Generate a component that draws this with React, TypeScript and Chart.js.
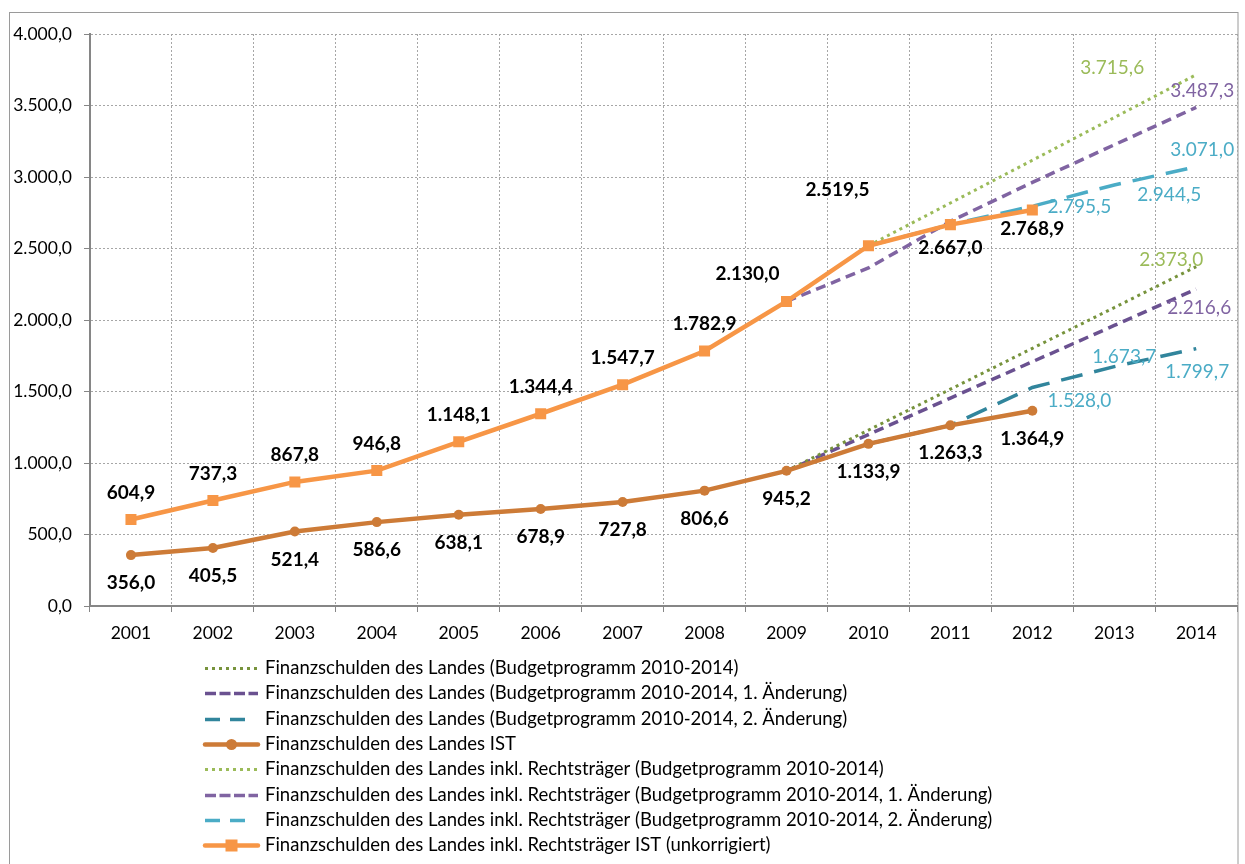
import React, { useEffect, useRef } from 'react';
import { Chart, registerables } from 'chart.js';

Chart.register(...registerables);

const years = ['2001', '2002', '2003', '2004', '2005', '2006', '2007', '2008', '2009', '2010', '2011', '2012', '2013', '2014'];

const landesBudget = [null, null, null, null, null, null, null, null, 945.2, 1230.0, 1516.0, 1802.0, 2087.0, 2373.0];
const landesBudget1 = [null, null, null, null, null, null, null, null, 945.2, 1199.0, 1454.0, 1708.0, 1962.0, 2216.6];
const landesBudget2 = [null, null, null, null, null, null, null, null, null, 1133.9, 1263.3, 1528.0, 1673.7, 1799.7];
const landesIst = [356.0, 405.5, 521.4, 586.6, 638.1, 678.9, 727.8, 806.6, 945.2, 1133.9, 1263.3, 1364.9, null, null];
const rtBudget = [null, null, null, null, null, null, null, null, null, 2519.5, 2818.0, 3117.0, 3416.0, 3715.6];
const rtBudget1 = [null, null, null, null, null, null, null, null, 2130.0, 2364.0, 2690.0, 2962.0, 3225.0, 3487.3];
const rtBudget2 = [null, null, null, null, null, null, null, null, null, 2519.5, 2667.0, 2795.5, 2944.5, 3071.0];
const rtIst = [604.9, 737.3, 867.8, 946.8, 1148.1, 1344.4, 1547.7, 1782.9, 2130.0, 2519.5, 2667.0, 2768.9, null, null];

const yMin = 0;
const yMax = 4000;
const yStep = 500;

const seriesNames = [
  'Finanzschulden des Landes (Budgetprogramm 2010-2014)',
  'Finanzschulden des Landes (Budgetprogramm 2010-2014, 1. Änderung)',
  'Finanzschulden des Landes (Budgetprogramm 2010-2014, 2. Änderung)',
  'Finanzschulden des Landes IST',
  'Finanzschulden des Landes inkl. Rechtsträger (Budgetprogramm 2010-2014)',
  'Finanzschulden des Landes inkl. Rechtsträger (Budgetprogramm 2010-2014, 1. Änderung)',
  'Finanzschulden des Landes inkl. Rechtsträger (Budgetprogramm 2010-2014, 2. Änderung)',
  'Finanzschulden des Landes inkl. Rechtsträger IST (unkorrigiert)',
];

const FONT = 'Lato, "Open Sans", sans-serif';
const GREEN_LABEL = '#9BBB59';
const PURPLE_LABEL = '#8064A2';
const TEAL_LABEL = '#4BACC6';

function fmt(v: number): string {
  const [intPart, dec] = v.toFixed(1).split('.');
  return intPart.replace(/\B(?=(\d{3})+(?!\d))/g, '.') + ',' + dec;
}

// label placement: [datasetIndex, pointIndex, dx, dy, color, bold]
type LabelSpec = [number, number, number, number, string, boolean];
const labelSpecs: LabelSpec[] = [];
for (let i = 0; i < 12; i++) labelSpecs.push([3, i, 0, 28, '#000', true]);
for (let i = 0; i < 8; i++) labelSpecs.push([7, i, 0, -27, '#000', true]);
labelSpecs.push([7, 8, -39, -28, '#000', true]);
labelSpecs.push([7, 9, -31, -56, '#000', true]);
labelSpecs.push([7, 10, 0, 23, '#000', true]);
labelSpecs.push([7, 11, 0, 19, '#000', true]);
labelSpecs.push([4, 13, -84, -7, GREEN_LABEL, false]);
labelSpecs.push([5, 13, 6, -16, PURPLE_LABEL, false]);
labelSpecs.push([6, 13, 6, -17, TEAL_LABEL, false]);
labelSpecs.push([6, 12, 55, 10, TEAL_LABEL, false]);
labelSpecs.push([6, 11, 47, 1, TEAL_LABEL, false]);
labelSpecs.push([0, 13, -25, -7, GREEN_LABEL, false]);
labelSpecs.push([1, 13, 3, 19, PURPLE_LABEL, false]);
labelSpecs.push([2, 12, 10, -10, TEAL_LABEL, false]);
labelSpecs.push([2, 13, 1, 23, TEAL_LABEL, false]);
labelSpecs.push([2, 11, 47, 13, TEAL_LABEL, false]);

const framePlugin = {
  id: 'frame',
  beforeDraw(chart: any) {
    const ctx = chart.ctx;
    ctx.save();
    ctx.fillStyle = '#fff';
    ctx.fillRect(0, 0, chart.width, chart.height);
    ctx.strokeStyle = '#9a9a9a';
    ctx.lineWidth = 1;
    ctx.strokeRect(9.5, 12.5, 1228.5, 900);
    ctx.restore();
  },
};

const valueLabelPlugin = {
  id: 'valueLabels',
  afterDatasetsDraw(chart: any) {
    const ctx = chart.ctx;
    ctx.save();
    ctx.textAlign = 'center';
    ctx.textBaseline = 'middle';
    for (const [ds, idx, dx, dy, color, bold] of labelSpecs) {
      const meta = chart.getDatasetMeta(ds);
      const el = meta.data[idx];
      const v = chart.data.datasets[ds].data[idx];
      if (!el || v == null) continue;
      ctx.font = (bold ? 'bold ' : '') + '19px ' + FONT;
      ctx.fillStyle = color;
      ctx.fillText(fmt(v), el.x + dx, el.y + dy);
    }
    ctx.restore();
  },
};

const legendPlugin = {
  id: 'customLegend',
  afterDraw(chart: any) {
    const ctx = chart.ctx;
    const top = 668;
    const rowH = 25.3;
    const x0 = 205;
    const x1 = 258;
    const tx = 265;
    ctx.save();
    chart.data.datasets.forEach((ds: any, i: number) => {
      const y = Math.round(top + i * rowH) + 0.5;
      ctx.save();
      ctx.strokeStyle = ds.borderColor;
      ctx.lineWidth = ds.borderWidth;
      ctx.setLineDash(ds.legendDash || []);
      ctx.lineCap = ds.pointRadius > 0 ? 'round' : 'butt';
      ctx.beginPath();
      ctx.moveTo(x0, y);
      ctx.lineTo(ds.legendEnd || x1, y);
      ctx.stroke();
      ctx.setLineDash([]);
      if (ds.pointRadius > 0) {
        const cx = (x0 + x1) / 2;
        ctx.fillStyle = ds.pointBackgroundColor;
        if (ds.pointStyle === 'rect') {
          ctx.fillRect(cx - 6, y - 6, 12, 12);
        } else {
          ctx.beginPath();
          ctx.arc(cx, y, 5.5, 0, Math.PI * 2);
          ctx.fill();
        }
      }
      ctx.restore();
      ctx.font = '18.5px ' + FONT;
      ctx.fillStyle = '#000';
      ctx.textAlign = 'left';
      ctx.textBaseline = 'middle';
      ctx.fillText(seriesNames[i], tx, y);
    });
    ctx.restore();
  },
};

export default function App() {
  const canvasRef = useRef<HTMLCanvasElement | null>(null);

  useEffect(() => {
    if (!canvasRef.current) return;
    const lineBase = { pointRadius: 0, pointHoverRadius: 0, tension: 0, fill: false, spanGaps: false, order: 1 };
    const chart = new Chart(canvasRef.current, {
      type: 'line',
      data: {
        labels: years,
        datasets: [
          { ...lineBase, label: seriesNames[0], data: landesBudget, borderColor: '#77933C', borderWidth: 3, borderDash: [3, 4], legendDash: [3, 4] },
          { ...lineBase, label: seriesNames[1], data: landesBudget1, borderColor: '#6A5190', borderWidth: 3.5, borderDash: [10, 6], legendDash: [11, 3.5] },
          { ...lineBase, label: seriesNames[2], data: landesBudget2, borderColor: '#31859C', borderWidth: 3.5, borderDash: [22, 12], legendDash: [15, 10], legendEnd: 245 },
          { label: seriesNames[3], data: landesIst, borderColor: '#CD7B37', backgroundColor: '#CD7B37', pointBackgroundColor: '#CD7B37', pointBorderColor: '#CD7B37', borderWidth: 4.5, pointRadius: 5, pointBorderWidth: 0, pointStyle: 'circle', tension: 0, order: 0 },
          { ...lineBase, label: seriesNames[4], data: rtBudget, borderColor: '#9BBB59', borderWidth: 3, borderDash: [3, 4], legendDash: [3, 4] },
          { ...lineBase, label: seriesNames[5], data: rtBudget1, borderColor: '#8064A2', borderWidth: 3.5, borderDash: [10, 6], legendDash: [11, 3.5] },
          { ...lineBase, label: seriesNames[6], data: rtBudget2, borderColor: '#4BACC6', borderWidth: 3.5, borderDash: [22, 12], legendDash: [15, 10], legendEnd: 245 },
          { label: seriesNames[7], data: rtIst, borderColor: '#F79646', backgroundColor: '#F79646', pointBackgroundColor: '#F79646', pointBorderColor: '#F79646', borderWidth: 4.5, pointRadius: 7.8, pointBorderWidth: 0, pointStyle: 'rect', tension: 0, order: 0 },
        ] as any,
      },
      options: {
        responsive: false,
        animation: false,
        devicePixelRatio: 1,
        layout: { padding: { left: 0, top: 34, right: 7, bottom: 208 } },
        plugins: {
          legend: { display: false },
          tooltip: { enabled: false },
          title: { display: false },
        },
        scales: {
          x: {
            type: 'category',
            offset: true,
            grid: { offset: true, color: '#A6A6A6', tickColor: '#868686', tickLength: 6, lineWidth: 1 },
            border: { display: true, color: '#868686', width: 2, dash: [2, 2] },
            ticks: { color: '#000', font: { family: FONT, size: 17.5 }, padding: 11, maxRotation: 0, autoSkip: false },
            afterFit: (scale: any) => { scale.height = 50; },
          },
          y: {
            min: yMin,
            max: yMax,
            grid: { color: '#A6A6A6', tickColor: '#868686', tickLength: 6, lineWidth: 1 },
            border: { display: true, color: '#868686', width: 2, dash: [2, 2] },
            ticks: {
              stepSize: yStep,
              color: '#000',
              font: { family: FONT, size: 17.5 },
              padding: 12,
              callback: (v: any) => fmt(Number(v)),
            },
            afterFit: (scale: any) => { scale.width = 90; },
          },
        },
      } as any,
      plugins: [framePlugin, valueLabelPlugin, legendPlugin],
    });
    return () => chart.destroy();
  }, []);

  return (
    <div style={{ position: 'fixed', left: 0, top: 0, width: 1245, height: 864, background: '#fff' }}>
      <canvas ref={canvasRef} width={1245} height={864} style={{ width: 1245, height: 864, display: 'block' }} />
    </div>
  );
}
